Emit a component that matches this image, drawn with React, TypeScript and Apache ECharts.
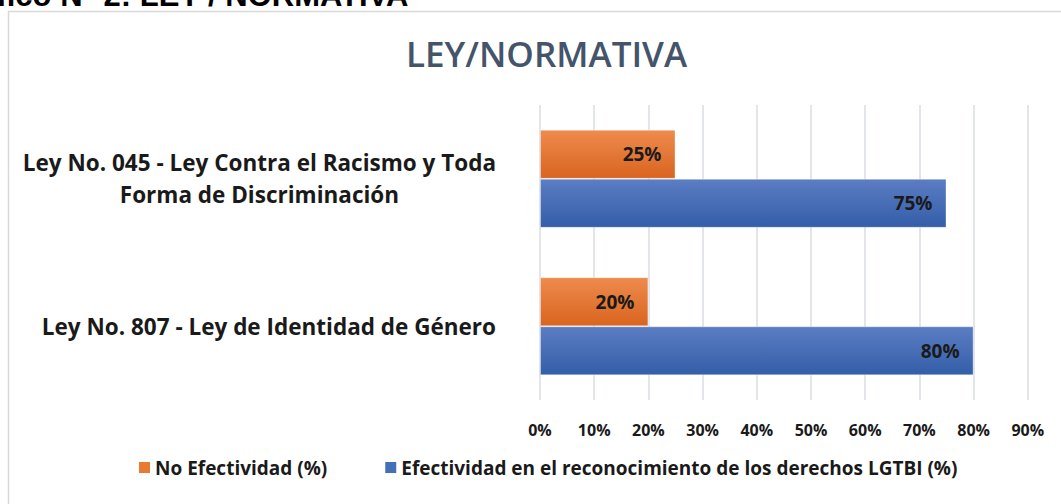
import React, { useEffect, useRef } from "react";
import * as echarts from "echarts";

const categories = [
  "Ley No. 045 - Ley Contra el Racismo y Toda\nForma de Discriminación",
  "Ley No. 807 - Ley de Identidad de Género",
];
const noEfectividad = [25, 20];
const efectividad = [75, 80];
const xTicks = [0, 10, 20, 30, 40, 50, 60, 70, 80, 90];
const seriesNames = [
  "No Efectividad (%)",
  "Efectividad en el reconocimiento de los derechos LGTBI (%)",
];
const chartTitle = "LEY/NORMATIVA";
const pageHeading = "Gráfico N° 2: LEY / NORMATIVA";

const FONT = "Open Sans";

export default function App() {
  const ref = useRef<HTMLDivElement>(null);
  useEffect(() => {
    if (!ref.current) return;
    const chart = echarts.init(ref.current, null, { renderer: "svg" });
    const orange = new echarts.graphic.LinearGradient(0, 0, 0, 1, [
      { offset: 0, color: "#EE8B4D" },
      { offset: 1, color: "#D9641F" },
    ]);
    const blue = new echarts.graphic.LinearGradient(0, 0, 0, 1, [
      { offset: 0, color: "#5B7DC3" },
      { offset: 1, color: "#345EA9" },
    ]);
    const labelCommon = {
      show: true,
      position: "insideRight" as const,
      distance: 14,
      color: "#1a1a1a",
      fontFamily: FONT,
      fontWeight: "bold" as const,
      fontSize: 19,
      formatter: (p: any) => p.value + "%",
    };
    chart.setOption({
      animation: false,
      backgroundColor: "#ffffff",
      title: {
        text: chartTitle,
        left: 401,
        top: 31,
        textStyle: {
          fontFamily: FONT,
          fontSize: 35,
          fontWeight: 600,
          color: "#44546A",
        },
      },
      graphic: [
        {
          type: "rect",
          shape: { x: 8.5, y: 11.5, width: 1100, height: 600 },
          style: { fill: "none", stroke: "#D9D9D9", lineWidth: 1.5 },
          z: -1,
        },
        {
          type: "text",
          x: -57,
          y: -5,
          style: {
            text: pageHeading,
            fontFamily: "Liberation Sans",
            fontWeight: "bold",
            fontSize: 31,
            fill: "#000",
            verticalAlign: "middle",
          },
        },
      ],
      grid: { left: 540, right: 33.2, top: 105, bottom: 104 },
      xAxis: {
        type: "value",
        min: 0,
        max: 90,
        interval: 10,
        axisLine: { show: false },
        axisTick: { show: false },
        splitLine: { lineStyle: { color: "#D9DCE3", width: 1.5 } },
        axisLabel: {
          margin: 22,
          fontFamily: FONT,
          fontWeight: "bold",
          fontSize: 16,
          color: "#1a1a1a",
          formatter: (v: number) => (xTicks.includes(v) ? v + "%" : ""),
        },
      },
      yAxis: {
        type: "category",
        inverse: true,
        data: categories,
        axisLine: { show: false },
        axisTick: { show: false },
        axisLabel: {
          margin: 44,
          fontFamily: FONT,
          fontWeight: "bold",
          fontSize: 22.5,
          color: "#1a1a1a",
          lineHeight: 32,
          formatter: (v: string) =>
            v
              .split("\n")
              .map((l) => "{c|" + l + "}")
              .join("\n"),
          rich: {
            c: {
              align: "center",
              fontFamily: FONT,
              fontWeight: "bold",
              fontSize: 22.5,
              color: "#1a1a1a",
              lineHeight: 32,
            },
          },
        },
      },
      legend: {
        bottom: 22,
        left: 134,
        itemWidth: 11,
        itemHeight: 11,
        itemGap: 58,
        itemStyle: { borderWidth: 0 },
        icon: "rect",
        textStyle: {
          fontFamily: FONT,
          fontWeight: "bold",
          fontSize: 19,
          color: "#1a1a1a",
        },
        data: [
          { name: seriesNames[0], itemStyle: { color: "#E97A32" } },
          { name: seriesNames[1], itemStyle: { color: "#4470BA" } },
        ],
      },
      series: [
        {
          name: seriesNames[0],
          type: "bar",
          data: noEfectividad,
          barGap: "0%",
          barCategoryGap: "33.5%",
          itemStyle: { color: orange, borderColor: "rgba(255,255,255,0.35)", borderWidth: 1 },
          label: labelCommon,
        },
        {
          name: seriesNames[1],
          type: "bar",
          data: efectividad,
          barGap: "0%",
          barCategoryGap: "33.5%",
          itemStyle: { color: blue, borderColor: "rgba(255,255,255,0.35)", borderWidth: 1 },
          label: labelCommon,
        },
      ],
    });
    return () => chart.dispose();
  }, []);
  return <div ref={ref} style={{ width: 1061, height: 504, position: "absolute", left: 0, top: 0 }} />;
}
